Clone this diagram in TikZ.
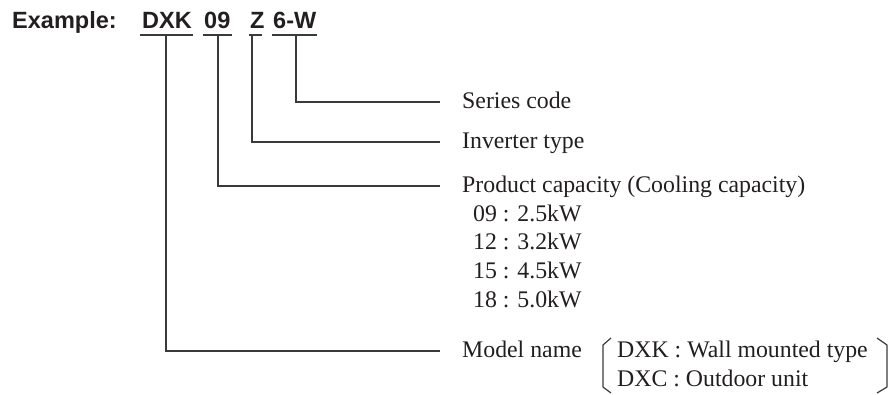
\documentclass[tikz,border=0pt]{standalone}
\usepackage{fontspec}
\setmainfont{Liberation Serif}
\newfontfamily\hdfont{Liberation Sans}
\definecolor{ink}{HTML}{231F20}
\definecolor{wire}{HTML}{3A3A3A}
\begin{document}
\begin{tikzpicture}[x=1pt,y=-1pt,
  hd/.style={anchor=base west,inner sep=0pt,text=ink,font=\hdfont\bfseries\fontsize{23.5}{28}\selectfont},
  lbl/.style={anchor=base west,inner sep=0pt,text=ink,font=\fontsize{23.8}{28.7}\selectfont},
  uline/.style={draw=wire,line width=1.6pt},
  conn/.style={draw=wire,line width=1.25pt},
  brk/.style={draw=wire,line width=1.2pt,line join=round}]
\useasboundingbox (0,0) rectangle (889,394);
% heading
\node[hd] (ex) at (12,28) {Example:};
\node[hd] (dxk) at (142,28) {DXK};
\node[hd] (n09) at (204,28) {09};
\node[hd] (z) at (250,28) {Z};
\node[hd] (w6) at (273,28) {6-W};
% underlines
\draw[uline] (140,35) -- (193,35);
\draw[uline] (203,35) -- (232,35);
\draw[uline] (249,35) -- (262,35);
\draw[uline] (272,35) -- (317,35);
\coordinate (uDXK) at (166,35);
\coordinate (u09) at (218,35);
\coordinate (uZ) at (252,35);
\coordinate (u6W) at (296,35);
% label ends
\coordinate (eS) at (440,102);
\coordinate (eI) at (440,142);
\coordinate (eP) at (440,186);
\coordinate (eM) at (440,351);
% labels
\node[lbl] (series) at (462,108) {Series code};
\node[lbl] (inv) at (462,148) {Inverter type};
\node[lbl] (prod) at (462,192) {Product capacity (Cooling capacity)};
\node[lbl] (c09) at (473,221) {09 : 2.5kW};
\node[lbl] (c12) at (473,249.7) {12 : 3.2kW};
\node[lbl] (c15) at (473,278.4) {15 : 4.5kW};
\node[lbl] (c18) at (473,307) {18 : 5.0kW};
\node[lbl] (model) at (462,357) {Model name};
\node[lbl] (dxkt) at (617,357) {DXK : Wall mounted type};
\node[lbl] (dxct) at (617,386) {DXC : Outdoor unit};
% connectors
\draw[conn] (u6W) |- (eS);
\draw[conn] (uZ) |- (eI);
\draw[conn] (u09) |- (eP);
\draw[conn] (uDXK) |- (eM);
% brackets
\draw[brk] (611,338) -- (603,345) -- (603,387) -- (611,393);
\draw[brk] (877,338) -- (887,345) -- (887,387) -- (877,393);
\end{tikzpicture}
\end{document}
